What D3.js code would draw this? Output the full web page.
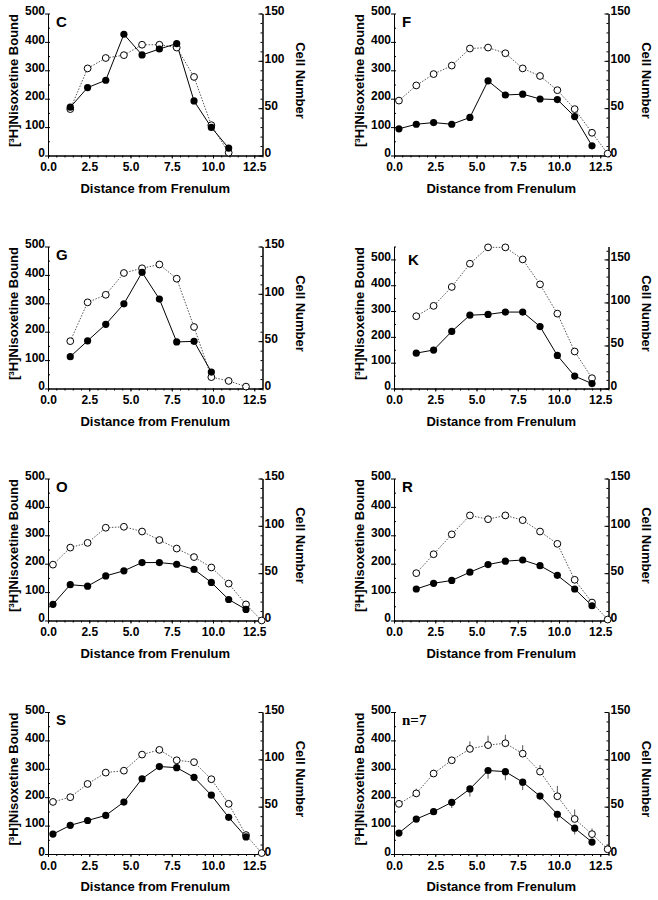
<!DOCTYPE html>
<html><head><meta charset="utf-8">
<script src="https://cdn.jsdelivr.net/npm/d3@7"></script>
<style>
body{margin:0;background:#fff}
svg text{font-family:"Liberation Sans",Arial,sans-serif;font-weight:bold;fill:#000}
</style>
</head><body>
<svg id="chart" width="658" height="900"></svg>
<script>
// ---- data ----
const distance = [0.3, 1.35, 2.4, 3.5, 4.6, 5.7, 6.75, 7.8, 8.85, 9.9, 10.95, 12.0, 12.95];
const xTicks = [0, 2.5, 5, 7.5, 10, 12.5];
const boundTicks = [0, 100, 200, 300, 400, 500];
const cellTicks = [0, 50, 100, 150];

const cBound = [null,170,239,265,427,354,375,394,192,99,26,null,null];
const cCells = [null,49,92,103,106,117,117,114,83,32,3,null,null];
const fBound = [94,110,116,110,134,263,213,216,199,197,137,34,null];
const fCells = [58,74,86,95,113,114,108,92,84,69,49,24,2];
const gBound = [null,112,168,226,298,409,315,164,166,58,null,null,null];
const gCells = [null,50,91,99,122,127,131,116,65,12,8,2,null];
const kBound = [null,137,149,221,284,287,296,296,240,128,48,19,null];
const kCells = [null,84,96,118,145,164,164,150,121,87,43,12,null];
const oBound = [57,126,121,157,175,204,204,198,180,134,74,39,null];
const oCells = [59,77,82,98,99,94,85,76,67,56,39,17,0];
const rBound = [null,111,131,141,170,197,209,213,193,159,111,52,null];
const rCells = [null,50,70,91,111,107,111,106,94,81,43,19,1];
const sBound = [70,101,118,136,183,265,308,304,270,207,129,60,null];
const sCells = [55,60,74,86,88,105,110,99,97,79,53,20,1];
const meanBound = [74,123,149,182,229,294,290,253,204,140,91,42,null];
const meanCells = [53,64,85,99,111,115,117,106,87,61,37,21,5];
const boundSem = [14,8,10,20,27,29,30,28,12,25,22,6,null];
const cellsSem = [0,5,4,3,8,10,9,9,7,11,10,6,0];

const panels = [
  {label:"C", bound:cBound, cells:cCells, bMax:500, cMax:150, col:0, row:0},
  {label:"F", bound:fBound, cells:fCells, bMax:500, cMax:150, col:1, row:0},
  {label:"G", bound:gBound, cells:gCells, bMax:500, cMax:150, col:0, row:1},
  {label:"K", bound:kBound, cells:kCells, bMax:550, cMax:165, col:1, row:1, lx:14, ly:18},
  {label:"O", bound:oBound, cells:oCells, bMax:500, cMax:150, col:0, row:2},
  {label:"R", bound:rBound, cells:rCells, bMax:500, cMax:150, col:1, row:2},
  {label:"S", bound:sBound, cells:sCells, bMax:500, cMax:150, col:0, row:3},
  {label:"n=7", bound:meanBound, cells:meanCells, bSem:boundSem, cSem:cellsSem, bMax:500, cMax:150, col:1, row:3, serif:true}
];

// ---- layout ----
const colX = [48, 394], plotW = 214.5;
const rowTop = [13.5, 246.5, 478.5, 712], plotH = 142;
const svg = d3.select("#chart");

function styleAxis(g, size){
  g.attr("font-family", null).attr("font-size", null);
  g.selectAll("text").style("font-size", size + "px");
  g.selectAll("path,line").attr("stroke", "#000").attr("stroke-width", 1);
}

panels.forEach(p => {
  const g = svg.append("g").attr("transform", `translate(${colX[p.col]},${rowTop[p.row]})`);
  const x = d3.scaleLinear().domain([0, 13]).range([0, plotW]);
  const yL = d3.scaleLinear().domain([0, p.bMax]).range([plotH, 0]);
  const yR = d3.scaleLinear().domain([0, p.cMax]).range([plotH, 0]);

  // minor ticks
  g.append("g").attr("transform", `translate(0,${plotH})`)
    .call(d3.axisBottom(x).tickValues(d3.range(0, 13.01, 0.5)).tickSize(2).tickFormat("").tickSizeOuter(0))
    .call(a => styleAxis(a, 12));
  g.append("g")
    .call(d3.axisLeft(yL).tickValues(d3.range(0, p.bMax + 0.1, 50)).tickSize(-2).tickFormat("").tickSizeOuter(0))
    .call(a => styleAxis(a, 12));
  g.append("g").attr("transform", `translate(${plotW},0)`)
    .call(d3.axisRight(yR).tickValues(d3.range(0, p.cMax + 0.1, 10)).tickSize(-2).tickFormat("").tickSizeOuter(0))
    .call(a => styleAxis(a, 12));

  // major axes
  g.append("g").attr("transform", `translate(0,${plotH})`)
    .call(d3.axisBottom(x).tickValues(xTicks).tickSize(3).tickPadding(4).tickFormat(d3.format(".1f")).tickSizeOuter(0))
    .call(a => styleAxis(a, 12));
  g.append("g")
    .call(d3.axisLeft(yL).tickValues(boundTicks).tickSize(3).tickPadding(0).tickSizeOuter(0))
    .call(a => styleAxis(a, 12))
    .call(a => a.selectAll("text").attr("dy", "0.1em"));
  g.append("g").attr("transform", `translate(${plotW},0)`)
    .call(d3.axisRight(yR).tickValues(cellTicks).tickSize(-4).tickPadding(2).tickSizeOuter(0))
    .call(a => styleAxis(a, 12))
    .call(a => a.selectAll("text").attr("dy", "0.1em"));

  // titles
  g.append("text").attr("x", plotW / 2).attr("y", plotH + 37).attr("text-anchor", "middle")
    .style("font-size", "13px").text("Distance from Frenulum");
  const yt = g.append("text").attr("transform", `translate(-30,${plotH / 2 - 4}) rotate(-90)`)
    .attr("text-anchor", "middle").style("font-size", "13px");
  yt.append("tspan").text("[");
  yt.append("tspan").attr("dy", -4).style("font-size", "8px").text("3");
  yt.append("tspan").attr("dy", 4).text("H]Nisoxetine Bound");
  g.append("text").attr("transform", `translate(${plotW + 33},${plotH / 2 - 4}) rotate(90)`)
    .attr("text-anchor", "middle").style("font-size", "13px").text("Cell Number");

  // panel label
  const lab = g.append("text").attr("x", p.lx ?? 8).attr("y", p.ly ?? 13)
    .style("font-size", "15px").text(p.label);
  if (p.serif) lab.style("font-family", '"Liberation Serif","Times New Roman",serif');

  const cellPts = distance.map((d, i) => ({d, v: p.cells[i], e: p.cSem ? p.cSem[i] : null})).filter(o => o.v != null);
  const boundPts = distance.map((d, i) => ({d, v: p.bound[i], e: p.bSem ? p.bSem[i] : null})).filter(o => o.v != null);

  // error bars
  if (p.cSem) {
    g.selectAll(".ec").data(cellPts.filter(o => o.e)).join("line")
      .attr("x1", o => x(o.d)).attr("x2", o => x(o.d))
      .attr("y1", o => yR(o.v)).attr("y2", o => yR(o.v + o.e))
      .attr("stroke", "#555").attr("stroke-width", 1);
    g.selectAll(".eb").data(boundPts.filter(o => o.e)).join("line")
      .attr("x1", o => x(o.d)).attr("x2", o => x(o.d))
      .attr("y1", o => yL(o.v)).attr("y2", o => yL(o.v - o.e))
      .attr("stroke", "#555").attr("stroke-width", 1);
  }

  // cell number line (open circles, dotted)
  g.append("path").datum(cellPts)
    .attr("d", d3.line().x(o => x(o.d)).y(o => yR(o.v)))
    .attr("fill", "none").attr("stroke", "#555").attr("stroke-width", 1).attr("stroke-dasharray", "1.5,1.5");
  // bound line (filled circles, solid)
  g.append("path").datum(boundPts)
    .attr("d", d3.line().x(o => x(o.d)).y(o => yL(o.v)))
    .attr("fill", "none").attr("stroke", "#000").attr("stroke-width", 1);

  g.append("g").selectAll("circle").data(cellPts).join("circle")
    .attr("cx", o => x(o.d)).attr("cy", o => yR(o.v)).attr("r", 3.4)
    .attr("fill", "#fff").attr("stroke", "#000").attr("stroke-width", 1);
  g.append("g").selectAll("circle").data(boundPts).join("circle")
    .attr("cx", o => x(o.d)).attr("cy", o => yL(o.v)).attr("r", 3.6)
    .attr("fill", "#000");
});
</script>
</body></html>
